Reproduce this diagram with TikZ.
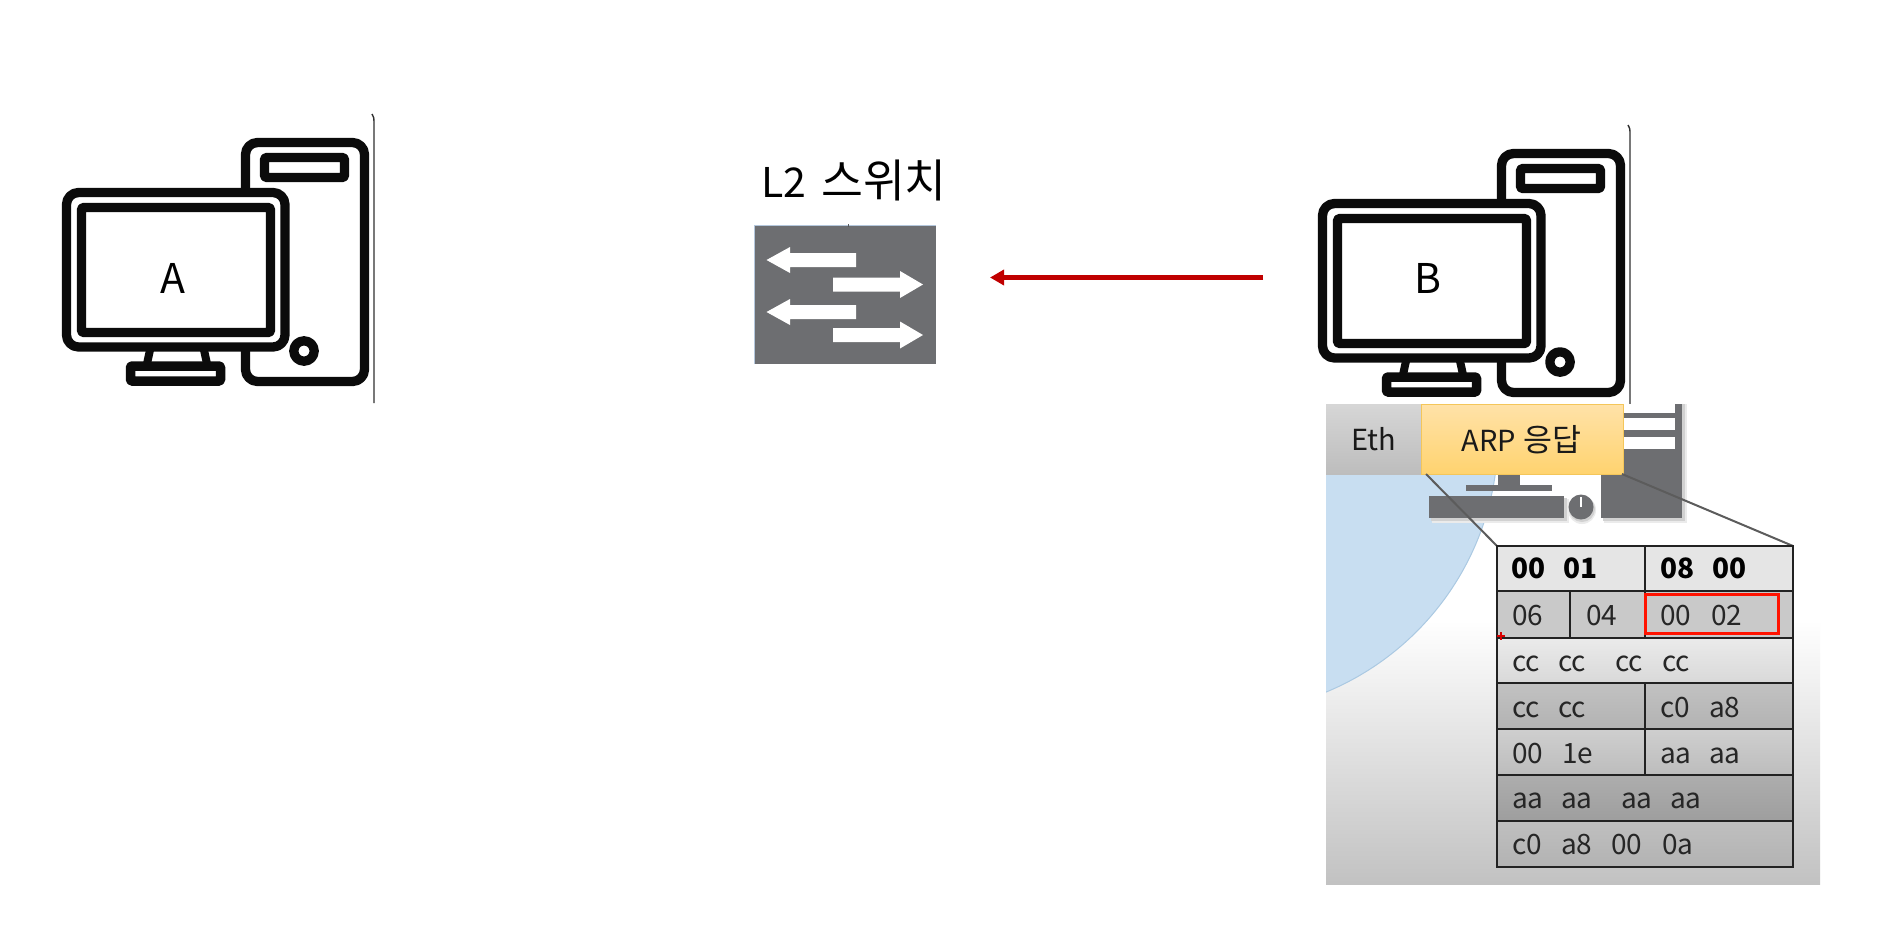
\documentclass[tikz,border=0pt]{standalone}
\usepackage{fontspec}
\setmainfont{Noto Sans CJK KR}
\usetikzlibrary{arrows.meta}
\definecolor{iconblack}{HTML}{0B0B0B}
\definecolor{swgray}{HTML}{6D6E71}
\definecolor{swedge}{HTML}{B4C7DC}
\definecolor{darkred}{HTML}{C00000}
\definecolor{circfill}{HTML}{C8DEF1}
\definecolor{circedge}{HTML}{ABC9E2}
\definecolor{tblline}{HTML}{222222}
\definecolor{zoomline}{HTML}{5C5C5C}
\definecolor{arptop}{HTML}{FFE2A8}
\definecolor{arpbot}{HTML}{FFD36F}
\definecolor{arpedge}{HTML}{F4C65A}
\newcommand{\latinbig}{\fontsize{41pt}{41pt}\selectfont}
\newcommand{\koreanbig}{\fontsize{45.5pt}{45pt}\selectfont}
\newcommand{\koreanmid}{\fontsize{31.5pt}{31pt}\selectfont}
\tikzset{
  iconline/.style={draw=iconblack,line width=9.3pt,line join=round},
  bigtext/.style={font=\latinbig,text=black,inner sep=0pt},
  boxtext/.style={font=\fontsize{29pt}{29pt}\selectfont,text=black!90,inner sep=0pt},
  celltext/.style={font=\fontsize{28pt}{28pt}\selectfont,text=black!85,inner sep=0pt,anchor=base west},
  cellbold/.style={celltext,font=\fontsize{28pt}{28pt}\selectfont\bfseries,text=black},
  whitearrow/.style={fill=white,draw=none},
  tbl/.style={draw=tblline,line width=2pt},
  zoomedge/.style={draw=zoomline,line width=2pt},
  pics/computer/.style={code={
    \draw[iconline,rounded corners=12pt] (245.5,192) -- (245.5,142.5) -- (364.5,142.5) -- (364.5,381.5) -- (245.5,381.5) -- (245.5,347);
    \draw[iconline,rounded corners=1.5pt] (264.5,157.5) rectangle (344.5,177.5);
    \draw[iconline] (304,351) circle (10.2pt);
    \draw[iconline,rounded corners=12pt] (66.5,192.5) rectangle (285,347);
    \draw[iconline,rounded corners=1.5pt] (81.5,207.5) rectangle (270.5,332.5);
    \draw[iconline,line width=8pt] (150,350) -- (146.5,366);
    \draw[iconline,line width=8pt] (204,350) -- (207.5,366);
    \draw[iconline,line width=9.5pt,rounded corners=1pt] (130.5,366) rectangle (220.5,381);
    \draw[iconblack!85,line width=1.4pt] (372,114) .. controls (373.5,116) and (374,118) .. (374,122) -- (374,403);
  }}
}
\begin{document}
\begin{tikzpicture}[x=1pt,y=-1pt]
\useasboundingbox (0,0) rectangle (1893,938);
\fill[white] (0,0) rectangle (1893,938);

% computers
\pic at (0,0) {computer};
\pic at (1256,11) {computer};
\node[bigtext] (labelA) at (173,278) {A};
\node[bigtext] (labelB) at (1428,278) {B};

% switch
\node[fill=swgray,draw=none,minimum width=182pt,minimum height=139pt,inner sep=0pt,anchor=north west] (switch) at (754,225) {};
\draw[swedge,line width=1.2pt] (754.5,364) -- (754.5,225.5) -- (936,225.5);
\draw[swgray!80!black,line width=1pt] (848,224) -- (848,227);
\fill[whitearrow] (766.5,260) -- (790,247) -- (790,253) -- (856,253) -- (856,267) -- (790,267) -- (790,273) -- cycle;
\fill[whitearrow] (923,284.5) -- (900,271) -- (900,277.5) -- (833,277.5) -- (833,291.5) -- (900,291.5) -- (900,298) -- cycle;
\fill[whitearrow] (766.5,312) -- (790,299) -- (790,305) -- (856,305) -- (856,319) -- (790,319) -- (790,325) -- cycle;
\fill[whitearrow] (923,335) -- (900,321.5) -- (900,328) -- (833,328) -- (833,342) -- (900,342) -- (900,348.5) -- cycle;
\node[bigtext] (switchlabel) at (854,180) {L2\hspace{15pt}{\koreanbig 스위치}};

% red arrow
\coordinate (arrowstart) at (1263,277.5);
\coordinate (arrowend) at (990,277.5);
\draw[darkred,line width=5pt,-{Triangle[length=14pt,width=15pt]}] (arrowstart) -- (arrowend);

% video-frame background
\begin{scope}
  \clip (1326,404) rectangle (1820,884);
  \fill[white] (1326,404) rectangle (1820,884);
  \shade[top color=white,bottom color=white!76!black] (1326,620) rectangle (1820,884);
  \draw[circedge,line width=1pt,fill=circfill] (1220,435) circle (278pt);
  % soft shadows of the gray device icon
  \fill[black!8] (1604,404) rectangle (1687,523);
  \fill[black!8] (1432,499) rectangle (1569,523);
  \fill[black!8] (1582,510) circle (14pt);
  \fill[black!18] (1603,404) rectangle (1685,521);
  \fill[black!18] (1431,498) rectangle (1567,521);
  \fill[black!18] (1582,509) circle (13pt);
  % gray device icon
  \fill[swgray] (1601,404) rectangle (1682,518);
  \fill[white] (1623,404) rectangle (1675,413);
  \fill[white] (1623,418) rectangle (1675,430);
  \fill[white] (1623,437) rectangle (1675,449);
  \fill[swgray] (1498,470) rectangle (1520,486);
  \fill[swgray] (1466,485) rectangle (1552,491);
  \fill[swgray] (1429,496) rectangle (1564,518);
  \fill[swgray] (1581,507) circle (12.5pt);
  \fill[white] (1580,497) rectangle (1582,507);
\end{scope}

% header boxes
\node[top color=black!16,bottom color=black!26,minimum width=95pt,minimum height=70pt,inner sep=0pt,anchor=north west] (eth) at (1326,404) {};
\node[boxtext] (ethlabel) at (eth.center) {Eth};
\node[top color=arptop,bottom color=arpbot,draw=arpedge,line width=.8pt,minimum width=202pt,minimum height=70pt,inner sep=0pt,anchor=north west] (arp) at (1421,404) {};
\node[boxtext] (arplabel) at ([xshift=-1pt]arp.center) {ARP\hspace{7.5pt}{\koreanmid 응답}};

% table rows
\fill[black!10] (1497,546) rectangle (1793,591);
\fill[black!21] (1497,591) rectangle (1793,638);
\shade[top color=black!8,bottom color=black!15] (1497,638) rectangle (1793,683);
\shade[top color=black!24,bottom color=black!30] (1497,683) rectangle (1793,729);
\shade[top color=black!19,bottom color=black!26] (1497,729) rectangle (1793,775);
\shade[top color=black!32,bottom color=black!38] (1497,775) rectangle (1793,821);
\shade[top color=black!25,bottom color=black!30] (1497,821) rectangle (1793,867);

\coordinate (tblNW) at (1497,546);
\coordinate (tblNE) at (1793,546);
\coordinate (ethout) at (1426,474);
\coordinate (arpout) at (1622,474);
\draw[zoomedge] (ethout) -- (tblNW);
\draw[zoomedge] (arpout) -- (tblNE);

% table lines
\draw[tbl] (1497,546) rectangle (1793,867);
\foreach \yy in {591,638,683,729,775,821} \draw[tbl] (1497,\yy) -- (1793,\yy);
\draw[tbl] (1645,546) -- (1645,638);
\draw[tbl] (1645,683) -- (1645,775);
\draw[tbl] (1570,591) -- (1570,638);

% red marks
\draw[red!85!orange,line width=3pt] (1645.5,594.5) rectangle (1778,633);
\draw[red!85!black,line width=1.5pt] (1497,636) -- (1505,636) (1501,632) -- (1501,640);

% cells
\foreach \n/\xx/\yy/\tt in {a1/1511.5/578/00,a2/1563/578/01,a3/1660/578/08,a4/1712/578/00}
  \node[cellbold] (\n) at (\xx,\yy) {\tt};
\foreach \n/\xx/\yy/\tt in {
  b1/1512/625/06,b2/1586/625/04,b3/1660/625/00,b4/1711/625/02,
  c1/1512/671/cc,c2/1558/671/cc,c3/1615/671/cc,c4/1662/671/cc,
  d1/1512/717/cc,d2/1558/717/cc,d3/1660/717/c0,d4/1709/717/a8,
  e1/1512/763/00,e2/1562/763/1e,e3/1660/763/aa,e4/1709/763/aa,
  f1/1512/808/aa,f2/1561/808/aa,f3/1621/808/aa,f4/1670/808/aa,
  g1/1512/854/c0,g2/1561/854/a8,g3/1611/854/00,g4/1662/854/0a}
  \node[celltext] (\n) at (\xx,\yy) {\tt};
\end{tikzpicture}
\end{document}
